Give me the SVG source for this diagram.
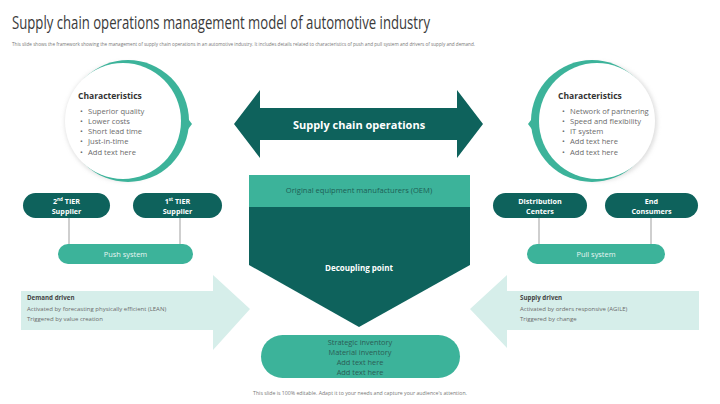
<svg xmlns="http://www.w3.org/2000/svg" width="720" height="404" viewBox="0 0 720 404">
<style>
text{font-family:"Open Sans","Liberation Sans",sans-serif}
.dk{fill:#0e625c}
.md{fill:#3cb39a}
.lt{fill:#d6eeea}
.wb{fill:#fff;font-weight:bold;text-anchor:middle}
.gr{fill:#6b6b6b;font-size:7.6px}
.hd{fill:#333;font-weight:bold;font-size:8.5px}
.sm{fill:#6b6b6b;font-size:6px}
.sb{fill:#444;font-weight:bold;font-size:6.2px}
.conn{stroke:#cfcfcf;stroke-width:2;fill:none}
</style>
<defs>
<filter id="sh" x="-20%" y="-20%" width="140%" height="140%"><feGaussianBlur stdDeviation="2"/></filter>
</defs>
<rect width="720" height="404" fill="#fff"/>
<text x="12" y="29" font-size="19" fill="#3a3a3a" textLength="418" lengthAdjust="spacingAndGlyphs">Supply chain operations management model of automotive industry</text>
<text x="12" y="46" font-size="4.6" fill="#777" textLength="463" lengthAdjust="spacingAndGlyphs">This slide shows the framework showing the management of supply chain operations in an automotive industry. It includes details related to characteristics of push and pull system and drivers of supply and demand.</text>

<g id="left-characteristics">
<circle cx="124" cy="122" r="59" fill="#bbb" opacity="0.5" filter="url(#sh)"/>
<circle cx="128" cy="121" r="61" class="md"/>
<polygon points="183,112 192,124 183,136" class="md"/>
<circle cx="123" cy="121" r="58" fill="#fff"/>
<text x="78" y="99" class="hd">Characteristics</text>
<g class="gr">
<text x="80" y="114">•</text><text x="88" y="114">Superior quality</text>
<text x="80" y="124">•</text><text x="88" y="124">Lower costs</text>
<text x="80" y="134">•</text><text x="88" y="134">Short lead time</text>
<text x="80" y="144">•</text><text x="88" y="144">Just-in-time</text>
<text x="80" y="155">•</text><text x="88" y="155">Add text here</text>
</g>
</g>

<g id="right-characteristics">
<circle cx="598" cy="122" r="59" fill="#bbb" opacity="0.5" filter="url(#sh)"/>
<circle cx="592" cy="121" r="61" class="md"/>
<polygon points="537,112 528,124 537,136" class="md"/>
<circle cx="597" cy="121" r="58" fill="#fff"/>
<text x="558" y="99" class="hd">Characteristics</text>
<g class="gr">
<text x="562" y="114">•</text><text x="570" y="114">Network of partnering</text>
<text x="562" y="124">•</text><text x="570" y="124">Speed and flexibility</text>
<text x="562" y="134">•</text><text x="570" y="134">IT system</text>
<text x="562" y="144">•</text><text x="570" y="144">Add text here</text>
<text x="562" y="155">•</text><text x="570" y="155">Add text here</text>
</g>
</g>

<g id="supply-chain-operations">
<polygon points="234,124 260,90 260,108 457,108 457,90 483,124 457,158 457,140 260,140 260,158" class="dk"/>
<text x="359" y="129" class="wb" font-size="11">Supply chain operations</text>
</g>

<g id="oem">
<polygon points="249,207 470,207 470,265 359,327 249,265" class="dk"/>
<rect x="249" y="175" width="221" height="32" class="md"/>
<text x="359" y="193" font-size="7.6" fill="#1c5e55" text-anchor="middle">Original equipment manufacturers (OEM)</text>
<text x="359" y="271" class="wb" font-size="8">Decoupling point</text>
</g>

<g id="inventory">
<rect x="261" y="335" width="199" height="43" rx="21.5" class="md"/>
<g font-size="7.4" fill="#2b5d55" text-anchor="middle">
<text x="360" y="345">Strategic inventory</text>
<text x="360" y="355">Material inventory</text>
<text x="360" y="365">Add text here</text>
<text x="360" y="375">Add text here</text>
</g>
</g>

<g id="connectors">
<line x1="69" y1="218" x2="69" y2="245" class="conn"/>
<line x1="180" y1="218" x2="180" y2="245" class="conn"/>
<line x1="539" y1="218" x2="539" y2="245" class="conn"/>
<line x1="651" y1="218" x2="651" y2="245" class="conn"/>
</g>

<g id="tier2">
<rect x="23" y="193" width="87" height="25" rx="12.5" class="dk"/>
<text x="66.5" y="203.5" class="wb" font-size="7.2">2<tspan font-size="4.5" dy="-2.5">nd</tspan><tspan dy="2.5"> TIER</tspan></text>
<text x="66.5" y="213.5" class="wb" font-size="7.2">Supplier</text>
</g>
<g id="tier1">
<rect x="133" y="193" width="89" height="25" rx="12.5" class="dk"/>
<text x="177.5" y="203.5" class="wb" font-size="7.2">1<tspan font-size="4.5" dy="-2.5">st</tspan><tspan dy="2.5"> TIER</tspan></text>
<text x="177.5" y="213.5" class="wb" font-size="7.2">Supplier</text>
</g>
<g id="push-system">
<rect x="58" y="244" width="135" height="20" rx="10" class="md"/>
<text x="125.5" y="257" fill="#e8f6f3" font-size="7.4" text-anchor="middle">Push system</text>
</g>

<g id="distribution">
<rect x="493" y="193" width="94" height="25" rx="12.5" class="dk"/>
<text x="540" y="203.5" class="wb" font-size="7.2">Distribution</text>
<text x="540" y="213.5" class="wb" font-size="7.2">Centers</text>
</g>
<g id="consumers">
<rect x="605" y="193" width="93" height="25" rx="12.5" class="dk"/>
<text x="651.5" y="203.5" class="wb" font-size="7.2">End</text>
<text x="651.5" y="213.5" class="wb" font-size="7.2">Consumers</text>
</g>
<g id="pull-system">
<rect x="527" y="244" width="138" height="20" rx="10" class="md"/>
<text x="596" y="257" fill="#e8f6f3" font-size="7.4" text-anchor="middle">Pull system</text>
</g>

<g id="demand-driven">
<polygon points="21,291 213,291 213,275 250,309 213,350 213,330 21,330" class="lt"/>
<text x="27" y="300" class="sb">Demand driven</text>
<text x="27" y="311" class="sm">Activated by forecasting physically efficient (LEAN)</text>
<text x="27" y="321" class="sm">Triggered by value creation</text>
</g>

<g id="supply-driven">
<polygon points="699,291 507,291 507,275 470,309 507,348 507,330 699,330" class="lt"/>
<text x="520" y="300" class="sb">Supply driven</text>
<text x="520" y="311" class="sm">Activated by orders responsive (AGILE)</text>
<text x="520" y="321" class="sm">Triggered by change</text>
</g>

<text x="360" y="395" font-size="5.2" fill="#777" text-anchor="middle">This slide is 100% editable. Adapt it to your needs and capture your audience's attention.</text>
</svg>
